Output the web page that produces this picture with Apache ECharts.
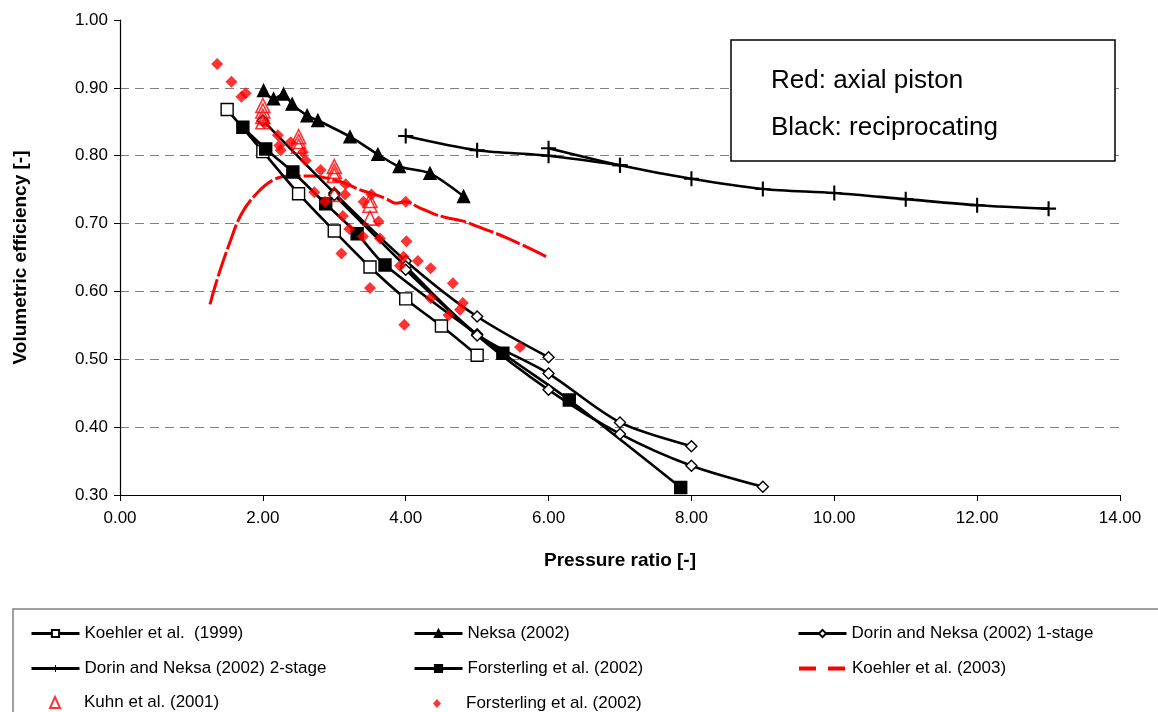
<!DOCTYPE html>
<html><head><meta charset="utf-8">
<script src="https://cdn.jsdelivr.net/npm/echarts@6/dist/echarts.min.js"></script>
<style>html,body{margin:0;padding:0;background:#fff}#c{width:1158px;height:712px}</style>
</head><body><div id="c"></div>
<script>
// ---- data ----
const xTicks = ['0.00','2.00','4.00','6.00','8.00','10.00','12.00','14.00'];
const koehler1999 = [[1.5,0.868],[2,0.806],[2.5,0.744],[3,0.689],[3.5,0.636],[4,0.589],[4.5,0.549],[5,0.506]];
const neksa2002 = [[2.01,0.896],[2.15,0.884],[2.29,0.891],[2.41,0.876],[2.62,0.859],[2.77,0.852],[3.22,0.828],[3.61,0.802],[3.91,0.784],[4.34,0.774],[4.81,0.740]];
const dorin1A = [[2,0.852],[3,0.745],[4,0.645],[5,0.563],[6,0.503]];
const dorin1B = [[3,0.742],[4,0.637],[5,0.537],[6,0.479],[7,0.407],[8,0.372]];
const dorin1C = [[4,0.632],[5,0.535],[6,0.455],[7,0.390],[8,0.343],[9,0.312]];
const dorin2A = [[4,0.829],[5,0.808],[6,0.800],[7,0.786]];
const dorin2B = [[6,0.811],[7,0.786],[8,0.766],[9,0.751],[10,0.745],[11,0.736],[12,0.727],[13,0.722]];
const forsterlingLine = [[1.72,0.842],[2.04,0.810],[2.42,0.776],[2.88,0.729],[3.32,0.685],[3.71,0.639],[5.36,0.509],[6.29,0.440],[7.85,0.311]];
const koehler2003 = [[1.26,0.581],[1.37,0.621],[1.53,0.670],[1.70,0.714],[1.91,0.744],[2.14,0.764],[2.37,0.770],[2.70,0.770],[2.93,0.766],[3.16,0.759],[3.35,0.750],[3.53,0.744],[3.72,0.737],[3.86,0.730],[4.00,0.732],[4.18,0.724],[4.40,0.714],[4.56,0.709],[4.79,0.704],[5.02,0.695],[5.20,0.688],[5.39,0.680],[5.60,0.670],[5.80,0.660],[5.97,0.651]];
const kuhn2001 = [[2,0.874],[2,0.866],[2,0.858],[2,0.850],[2.5,0.828],[2.5,0.821],[2.5,0.814],[3,0.784],[3,0.777],[3,0.771],[3,0.743],[3.5,0.734],[3.5,0.727],[3.5,0.708]];
const forsterlingPts = [[1.36,0.935],[1.56,0.909],[1.70,0.887],[1.76,0.892],[2.02,0.848],[2.21,0.830],[2.23,0.815],[2.25,0.808],[2.39,0.820],[2.56,0.805],[2.60,0.793],[2.81,0.779],[2.72,0.746],[2.87,0.732],[3.12,0.711],[3.16,0.758],[3.15,0.743],[3.41,0.732],[3.52,0.743],[3.21,0.692],[3.40,0.681],[3.62,0.703],[3.64,0.678],[4.01,0.674],[3.10,0.656],[3.97,0.651],[4.17,0.645],[3.92,0.638],[4.35,0.634],[3.50,0.605],[4.66,0.612],[4.35,0.590],[4.80,0.583],[4.76,0.573],[4.60,0.565],[3.98,0.551],[5.60,0.518],[4.00,0.732]];

const FONT = 'Liberation Sans, Arial, sans-serif';
const plusPath = 'path://M4.3,0H5.7V10H4.3ZM0,4.3H10V5.7H0Z';

function lineSeries(name, data, symbol, size, fill, extra) {
  return Object.assign({
    name, type: 'line', data, smooth: 0.3, symbol, symbolSize: size,
    showSymbol: true,
    lineStyle: { color: '#000', width: 2.6 },
    itemStyle: { color: fill, borderColor: '#000', borderWidth: 1.4 },
    emphasis: { disabled: true }, z: 3
  }, extra || {});
}

const series = [
  lineSeries('Koehler et al.  (1999)', koehler1999, 'rect', 12, '#fff'),
  lineSeries('Neksa (2002)', neksa2002, 'triangle', 12, '#000'),
  lineSeries('Dorin and Neksa (2002) 1-stage', dorin1A, 'diamond', 11, '#fff'),
  lineSeries('Dorin and Neksa (2002) 1-stage', dorin1B, 'diamond', 11, '#fff'),
  lineSeries('Dorin and Neksa (2002) 1-stage', dorin1C, 'diamond', 11, '#fff'),
  lineSeries('Dorin and Neksa (2002) 2-stage', dorin2B, plusPath, 15, '#000', {itemStyle:{color:'#000'}}),
  lineSeries('Dorin and Neksa (2002) 2-stage', dorin2A, plusPath, 15, '#000', {itemStyle:{color:'#000'}}),
  lineSeries('Forsterling et al. (2002)', forsterlingLine, 'rect', 12, '#000'),
  { name: 'Koehler et al. (2003)', type: 'line', data: koehler2003, smooth: 0.4, symbol: 'none',
    lineStyle: { color: '#ff0000', width: 3, type: [26, 3] }, itemStyle: { color: 'rgba(0,0,0,0)', borderColor: 'rgba(0,0,0,0)' }, emphasis:{disabled:true}, z: 2 },
  { name: 'Kuhn et al. (2001)', type: 'scatter', data: kuhn2001, symbol: 'triangle', symbolSize: 14,
    itemStyle: { color: 'rgba(255,255,255,0)', borderColor: '#ff0000', borderWidth: 1.6 }, emphasis:{disabled:true}, z: 4 },
  { name: 'Forsterling et al. (2002) ', type: 'scatter', data: forsterlingPts, symbol: 'diamond', symbolSize: 12,
    itemStyle: { color: '#ff0000' }, emphasis:{disabled:true}, z: 5 }
];

const TS = { fontFamily: FONT, fontSize: 17, color: '#000' };
function leg(item, left, top, w, h, padLeft) {
  return { data: [item], left, top, orient: 'horizontal', padding: 0,
    itemWidth: w, itemHeight: h, selectedMode: false,
    textStyle: Object.assign({}, TS, padLeft ? { padding: [0, 0, 0, padLeft] } : {}) };
}
const L = (name) => ({ name, lineStyle: { width: 3 } });
const c1 = 30, c2 = 413, c3 = 797;
const legends = [
  leg(L('Koehler et al.  (1999)'), c1, 625, 48, 9),
  leg(L('Neksa (2002)'), c2, 625, 48, 9),
  leg(L('Dorin and Neksa (2002) 1-stage'), c3, 625, 48, 9),
  leg(L('Dorin and Neksa (2002) 2-stage'), c1, 660, 48, 9),
  leg(L('Forsterling et al. (2002)'), c2, 660, 48, 9),
  leg({ name: 'Koehler et al. (2003)', lineStyle: { type: [17, 12], width: 4 } }, c3, 660, 48, 9),
  leg({ name: 'Kuhn et al. (2001)', icon: 'triangle' }, c1 + 24 - 5, 694, 10, 11, 19),
  leg({ name: 'Forsterling et al. (2002) ', icon: 'diamond' }, c2 + 24 - 4, 695, 8, 9, 20)
];

const chart = echarts.init(document.getElementById('c'), null, { renderer: 'canvas' });
chart.setOption({
  animation: false,
  backgroundColor: '#fff',
  grid: { left: 120, right: 38, top: 20, bottom: 217, containLabel: false },
  xAxis: {
    type: 'value', min: 0, max: 14, interval: 2,
    axisLine: { show: true, onZero: false, lineStyle: { color: '#000', width: 1.2 } },
    axisTick: { show: true, length: 6, lineStyle: { color: '#000' } },
    axisLabel: { fontFamily: FONT, fontSize: 17, color: '#000', margin: 15,
      formatter: (v) => xTicks[Math.round(v / 2)] },
    splitLine: { show: false },
    name: 'Pressure ratio [-]', nameLocation: 'middle', nameGap: 56,
    nameTextStyle: { fontFamily: FONT, fontSize: 19, fontWeight: 'bold', color: '#000' }
  },
  yAxis: {
    type: 'value', min: 0.3, max: 1.0, interval: 0.1,
    axisLine: { show: true, onZero: false, lineStyle: { color: '#000', width: 1.2 } },
    axisTick: { show: true, length: 6, lineStyle: { color: '#000' } },
    axisLabel: { fontFamily: FONT, fontSize: 17, color: '#000', margin: 12,
      formatter: (v) => v.toFixed(2) },
    splitLine: { show: true, lineStyle: { color: ['#808080','#808080','#808080','#808080','#808080','#808080','#808080','rgba(0,0,0,0)'], type: [9, 6], width: 1.2 } },
    name: 'Volumetric efficiency [-]', nameLocation: 'middle', nameGap: 90,
    nameTextStyle: { fontFamily: FONT, fontSize: 19, fontWeight: 'bold', color: '#000' }
  },
  legend: legends,
  graphic: [
    { type: 'rect', shape: { x: 731, y: 40, width: 384, height: 121 },
      style: { fill: '#fff', stroke: '#000', lineWidth: 1.5 }, z: 10 },
    { type: 'text', x: 771, y: 81, style: { text: 'Red: axial piston', font: '26px ' + FONT, fill: '#000', verticalAlign: 'middle' }, z: 11 },
    { type: 'text', x: 771, y: 128, style: { text: 'Black: reciprocating', font: '26px ' + FONT, fill: '#000', verticalAlign: 'middle' }, z: 11 },
    { type: 'rect', shape: { x: 13, y: 609, width: 1200, height: 200 },
      style: { fill: 'none', stroke: '#808080', lineWidth: 1.5 }, z: 1 }
  ],
  series
});
</script></body></html>
